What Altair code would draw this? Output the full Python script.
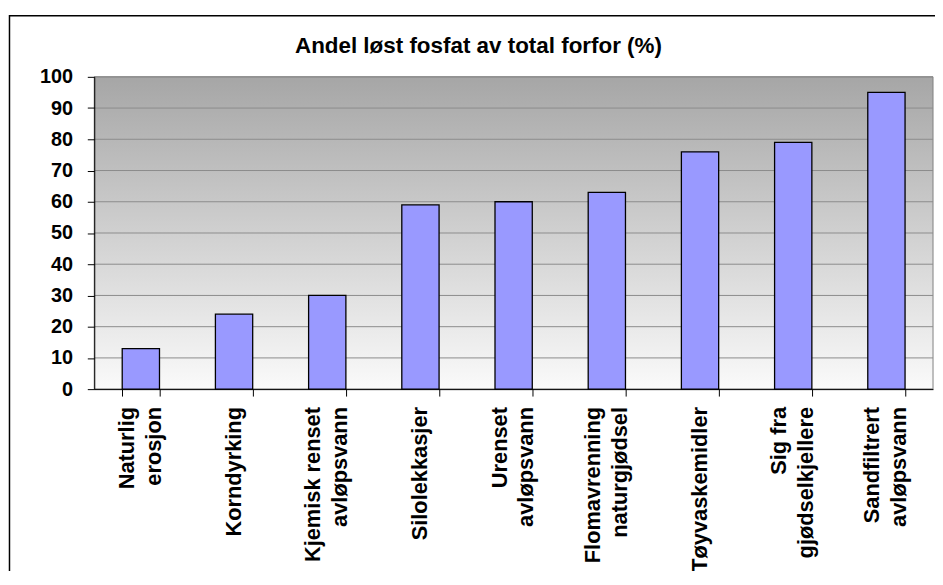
import altair as alt
import pandas as pd

# ---- data ----
categories = [
    "Naturlig\nerosjon",
    "Korndyrking",
    "Kjemisk renset\navløpsvann",
    "Silolekkasjer",
    "Urenset\navløpsvann",
    "Flomavrenning\nnaturgjødsel",
    "Tøyvaskemidler",
    "Sig fra\ngjødselkjellere",
    "Sandfiltrert\navløpsvann",
]
values = [13, 24, 30, 59, 60, 63, 76, 79, 95]
y_ticks = [0, 10, 20, 30, 40, 50, 60, 70, 80, 90, 100]
title_text = "Andel løst fosfat av total forfor (%)"

# Arial/Liberation Sans Bold advance widths (1/1000 em), used only to centre
# the lines of a two-line rotated label against each other (as Excel does)
ADV = {
    "a": 556, "b": 611, "c": 556, "d": 611, "e": 556, "f": 333, "g": 611,
    "h": 611, "i": 278, "j": 278, "k": 556, "l": 278, "m": 889, "n": 611,
    "o": 611, "p": 611, "q": 611, "r": 389, "s": 556, "t": 333, "u": 611,
    "v": 556, "w": 778, "x": 556, "y": 556, "z": 500, "ø": 611, " ": 278,
    "K": 722, "N": 722, "S": 667, "T": 611, "U": 722, "F": 611,
}


def text_w(s):
    return sum(ADV.get(c, 556) for c in s)


def centred_label(label):
    lines = label.split("\n")
    longest = max(text_w(l) for l in lines)
    out = [l + "\u00a0" * round((longest - text_w(l)) / 2 / 278) for l in lines]
    return "|".join(out)


labels = [centred_label(c) for c in categories]
df = pd.DataFrame({"label": labels, "value": values})
grid_df = pd.DataFrame({"value": y_ticks})

FONT = "Liberation Sans"
W, H = 846, 315

y_scale = alt.Scale(domain=[0, 100], nice=False)
y_axis = alt.Axis(
    title=None,
    values=y_ticks,
    labelFontSize=20,
    labelPadding=15,
    labelOverlap=False,
    tickSize=7,
    grid=False,
    zindex=1,
)
x_axis = alt.Axis(
    title=None,
    labels=False,
    tickBand="extent",
    tickSize=7,
    grid=False,
    zindex=1,
)
x_scale = alt.Scale(paddingInner=0.6, paddingOuter=0.3)


def x_enc():
    return alt.X("label:N", sort=labels, scale=x_scale, axis=x_axis)


def y_enc():
    return alt.Y("value:Q", scale=y_scale, axis=y_axis)


bars = alt.Chart(df).mark_bar(
    color="#9999FF", stroke="black", strokeWidth=1.3
).encode(x=x_enc(), y=y_enc())

label_style = dict(
    angle=270, align="right", font=FONT, fontSize=22, fontWeight="bold",
    color="black", lineBreak="|", lineHeight=27,
)
labels_single = alt.Chart(df).transform_filter(
    "indexof(datum.label, '|') < 0"
).mark_text(baseline="middle", **label_style).encode(
    x=x_enc(), y=alt.value(H + 18), text="label:N"
)
labels_double = alt.Chart(df).transform_filter(
    "indexof(datum.label, '|') >= 0"
).mark_text(baseline="line-bottom", **label_style).encode(
    x=x_enc(), y=alt.value(H + 18), text="label:N"
)

one = pd.DataFrame({"f": [0]})
frame = alt.Chart(one).mark_rect(
    fillOpacity=0, stroke="black", strokeWidth=1.5
).encode(
    x=alt.value(-85.5), x2=alt.value(4000), y=alt.value(-61.5), y2=alt.value(4000)
)

plot_bg = alt.Chart(one).mark_rect(
    color=alt.LinearGradient(
        gradient="linear",
        stops=[
            alt.GradientStop(color="#A6A6A6", offset=0),
            alt.GradientStop(color="#FAFAFA", offset=1),
        ],
        x1=0, x2=0, y1=0, y2=1,
    ),
    stroke="#808080",
    strokeWidth=1,
).encode(x=alt.value(0), x2=alt.value(W), y=alt.value(0), y2=alt.value(H))

grid = alt.Chart(grid_df).mark_rule(color="#8C8C8C", strokeWidth=1).encode(
    y=y_enc()
)

title = alt.Chart(pd.DataFrame({"t": [title_text]})).mark_text(
    font=FONT, fontSize=22.6, fontWeight="bold", align="center",
    baseline="alphabetic", color="black"
).encode(text="t:N", x=alt.value(387.5), y=alt.value(-24))

chart = alt.layer(
    frame, plot_bg, grid, bars, labels_single, labels_double, title
).properties(
    width=W,
    height=H,
    autosize=alt.AutoSizeParams(type="none"),
    padding={"left": 87, "top": 67, "right": 2, "bottom": 181},
    background="white",
).configure_view(
    stroke=None,
).configure_axis(
    domainColor="black",
    domainWidth=1,
    tickColor="black",
    tickWidth=1,
    labelColor="black",
    labelFont=FONT,
    labelFontWeight="bold",
)

chart.save("out.html", embed_options={"renderer": "svg", "actions": False})
